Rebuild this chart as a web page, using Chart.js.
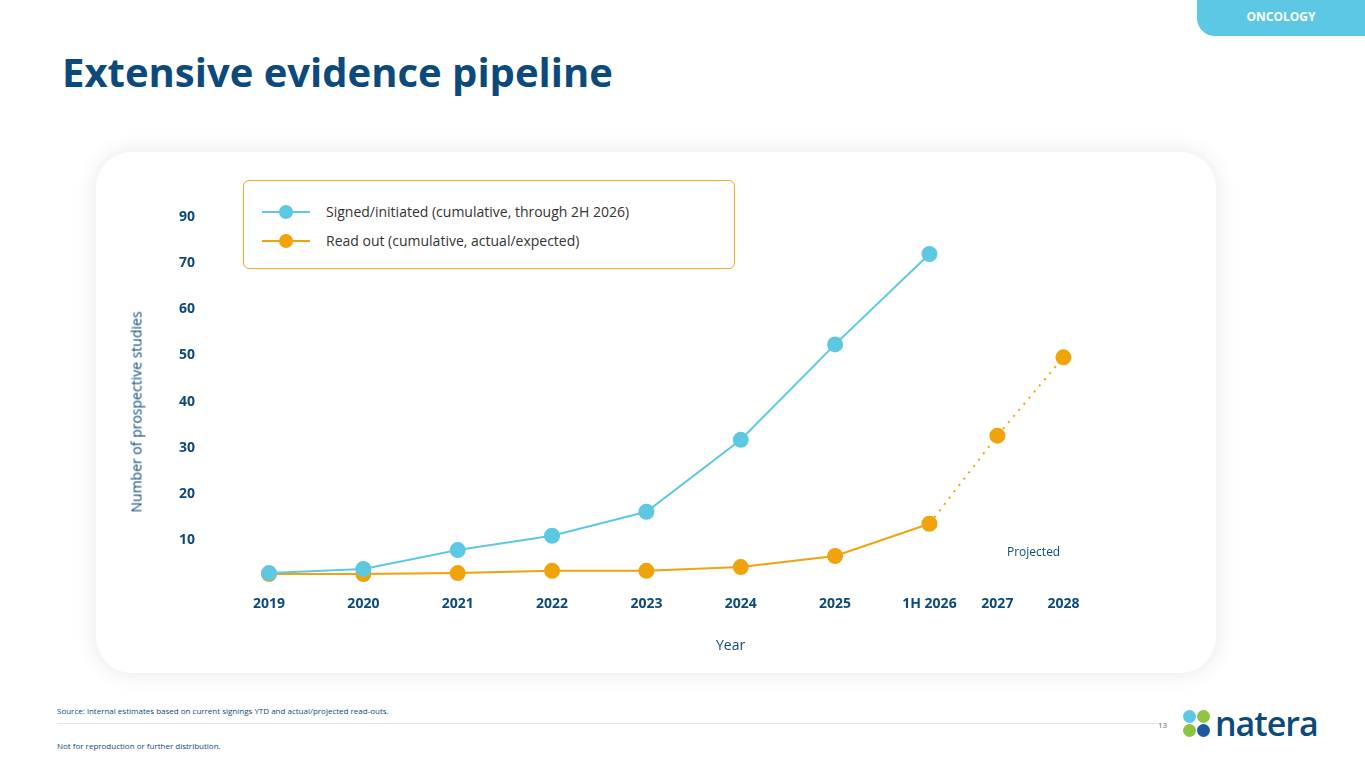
<!DOCTYPE html>
<html><head><meta charset="utf-8">
<script src="https://cdn.jsdelivr.net/npm/chart.js@4"></script>
<style>
body{margin:0;width:1365px;height:768px;background:#fff;font-family:"Open Sans",Calibri,sans-serif;position:relative;overflow:hidden}
.abs{position:absolute}
#tab{left:1197px;top:0;width:168px;height:36px;background:#5cc8e6;border-bottom-left-radius:18px;color:#fff;font-weight:bold;font-size:12px;text-align:center;line-height:34px}
#title{left:62px;top:44px;font-size:40px;font-weight:bold;color:#0d4a7c}
#card{left:96px;top:152px;width:1120px;height:521px;background:#fff;border-radius:36px;box-shadow:0 0 22px rgba(0,0,0,0.10)}
#legend{left:243px;top:180px;width:490px;height:87px;border:1px solid #f0a81e;border-radius:6px;background:#fff;font-size:14px;color:#333}
.li{position:absolute;left:18px;height:20px}
.li span{position:absolute;left:64px;top:0;white-space:nowrap}
.ln{position:absolute;left:0;top:9px;width:48px;height:2px}
.dot{position:absolute;left:17px;top:3px;width:14px;height:14px;border-radius:50%}
</style></head><body>
<div id="tab" class="abs">ONCOLOGY</div>
<div id="title" class="abs">Extensive evidence pipeline</div>
<div id="card" class="abs"><canvas id="c" width="1120" height="521"></canvas></div>
<div id="legend" class="abs">
 <div class="li" style="top:21px"><div class="ln" style="background:#5cc8e2"></div><div class="dot" style="background:#5cc8e2"></div><span>Signed/initiated (cumulative, through 2H 2026)</span></div>
 <div class="li" style="top:50px"><div class="ln" style="background:#f0a30a"></div><div class="dot" style="background:#f0a30a"></div><span>Read out (cumulative, actual/expected)</span></div>
</div>
<div class="abs" style="left:136px;top:412px;transform:translate(-50%,-50%) rotate(-90deg);font-size:14px;color:#0d4a7c;white-space:nowrap">Number of prospective studies</div>
<div class="abs" style="left:716px;top:635px;font-size:14px;color:#0d4a7c">Year</div>
<div class="abs" style="left:1007px;top:543px;font-size:12px;color:#0d4a7c">Projected</div>
<div class="abs" style="left:57px;top:705px;font-size:8px;color:#0d4a7c">Source: internal estimates based on current signings YTD and actual/projected read-outs.</div>
<div class="abs" style="left:57px;top:723px;width:1100px;height:1px;background:#dde3ea"></div>
<div class="abs" style="left:1158px;top:719px;font-size:8px;color:#666">13</div>
<div class="abs" style="left:57px;top:740px;font-size:8px;color:#0d4a7c">Not for reproduction or further distribution.</div>
<div class="abs" style="left:1183px;top:710px;width:28px;height:28px">
 <div class="abs" style="left:0;top:0;width:13px;height:13px;border-radius:50%;background:#5cc8e6"></div>
 <div class="abs" style="left:14px;top:0;width:13px;height:13px;border-radius:50%;background:#8cc63f"></div>
 <div class="abs" style="left:0;top:14px;width:13px;height:13px;border-radius:50%;background:#8cc63f"></div>
 <div class="abs" style="left:14px;top:14px;width:13px;height:13px;border-radius:50%;background:#1c5a9c"></div>
</div>
<div class="abs" style="left:1215px;top:700px;font-size:34px;color:#0d4a7c;font-weight:600;letter-spacing:-1px">natera</div>
<script>
const categories=["2019","2020","2021","2022","2023","2024","2025","1H 2026","2027","2028"];
const xPositions=[0,1,2,3,4,5,6,7,7.72,8.42];
const signed=[2.8,3.7,7.8,10.9,16.1,31.7,52.4,72,null,null];
const readOut=[2.6,2.6,2.8,3.3,3.3,4.1,6.5,13.5,32.6,49.6];
const yTickValues=[10,20,30,40,50,60,70,80];
const yTickLabels=["10","20","30","40","50","60","70","90"];
const projectedFrom=7;
const pts=a=>a.map((v,i)=>({x:xPositions[i],y:v})).filter(p=>p.y!==null);
const tickFont={family:"Open Sans",size:14,weight:"bold"};
new Chart(document.getElementById('c'),{type:'line',
data:{datasets:[
 {data:pts(signed),borderColor:'#5cc8e2',backgroundColor:'#5cc8e2',borderWidth:2,pointRadius:7,pointHoverRadius:7},
 {data:pts(readOut),borderColor:'#f0a30a',backgroundColor:'#f0a30a',borderWidth:2,pointRadius:7,pointHoverRadius:7,
  segment:{borderDash:ctx=>ctx.p0DataIndex>=projectedFrom?[2,6]:undefined}}
]},
options:{responsive:false,animation:false,plugins:{legend:{display:false},tooltip:{enabled:false}},
 layout:{padding:{top:19,right:79,left:0,bottom:0}},
 scales:{
  x:{type:'linear',min:-0.7,max:9.2,grid:{display:false},border:{display:false},
   afterBuildTicks:s=>{s.ticks=xPositions.map(v=>({value:v}))},
   afterFit:s=>{s.height=87},
   ticks:{padding:2,font:tickFont,color:'#0d4a7c',callback:(v)=>{const i=xPositions.indexOf(v);return i>=0?categories[i]:''}}},
  y:{min:0,max:90,grid:{display:false},border:{display:false},
   afterBuildTicks:s=>{s.ticks=yTickValues.map(v=>({value:v}))},
   afterFit:s=>{s.width=107},
   ticks:{padding:0,font:tickFont,color:'#0d4a7c',callback:v=>yTickLabels[yTickValues.indexOf(v)]}}
 }}});
</script>
</body></html>
